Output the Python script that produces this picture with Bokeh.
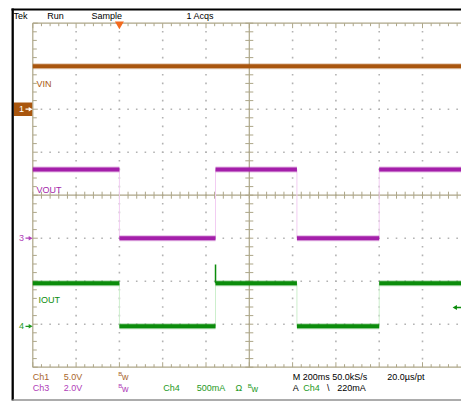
import math
from bokeh.plotting import figure
from bokeh.embed import file_html
from bokeh.resources import INLINE
from bokeh.core.properties import value

# ---------------- data ----------------
time_edges_ms = [0, 400, 844, 1220, 1600, 2000]      # VOUT / IOUT transitions
vin_t_ms = [0, 2000]
vin_V = [5.0, 5.0]
vout_levels_V = [3.2, 0.0, 3.2, 0.0, 3.2]
iout_levels_mA = [500, 0, 500, 0, 500]
iout_spike_t_ms = 844
iout_spike_mA = 720
trigger_pos_ms = 400
trigger_level_mA = 220

time_per_div_ms = 200
ch1_scale_V, ch1_offset_div = 5.0, 2.0
ch3_scale_V, ch3_offset_div = 2.0, -1.0
ch4_scale_mA, ch4_offset_div = 500.0, -3.05

header_labels = ["Tek", "Run", "Sample", "1 Acqs"]
trace_labels = ["VIN", "VOUT", "IOUT"]

# ---------------- layout helpers ----------------
W, H = 461, 401
OX, OY = 0, 0
X0, DX, Y0, DY = 32.3, 43.3, 194.7, 43.0
PX = time_per_div_ms / DX      # one pixel in ms
PY = 1.0 / DY                  # one pixel in divisions


def X(px):
    return (px - X0) / DX * time_per_div_ms


def Y(py):
    return (Y0 - py) / DY


p = figure(width=W, height=H, x_range=(X(OX), X(OX + W)), y_range=(Y(OY + H), Y(OY)),
           output_backend="svg", toolbar_location=None, min_border=0,
           x_axis_type=None, y_axis_type=None)
p.outline_line_color = None
p.background_fill_color = "white"
p.border_fill_color = "white"
p.xgrid.visible = False
p.ygrid.visible = False

GC = "#ADA688"
DOT = "#B2B2B2"
BROWN = "#A9560E"
PURPLE = "#A41FAA"
GREEN = "#0B8C0B"
FONT = value("Liberation Sans")
TMAX = 10 * time_per_div_ms

# ---------------- dotted graticule ----------------
dx, dy = [], []
for k in range(1, 10):
    if k == 5:
        continue
    for j in range(1, 40):
        dx.append(k * time_per_div_ms)
        dy.append(-4 + 0.2 * j)
for k in range(-3, 4):
    if k == 0:
        continue
    for j in range(1, 50):
        dx.append(j * time_per_div_ms / 5)
        dy.append(k)
p.scatter(dx, dy, marker="square", size=1.6, color=DOT, line_color=None)

# solid edges and center cross
p.segment(x0=[0, 0, 0, TMAX / 2, 0], y0=[-4, 4, -4, -4, 0],
          x1=[0, TMAX, TMAX, TMAX / 2, TMAX], y1=[4, 4, -4, 4, 0],
          line_color=GC, line_width=1.2)

# ticks
sx0, sy0, sx1, sy1 = [], [], [], []
for j in range(0, 51):
    t = j * time_per_div_ms / 5
    L = 5 if j % 5 == 0 else 3
    sx0 += [t, t, t]
    sy0 += [4, -4, -3.5 * PY]
    sx1 += [t, t, t]
    sy1 += [4 - L * PY, -4 + L * PY, 3.5 * PY]
for j in range(0, 41):
    yv = -4 + 0.2 * j
    L = 5 if j % 5 == 0 else 4
    sx0 += [0, TMAX / 2 - 4 * PX]
    sy0 += [yv, yv]
    sx1 += [L * PX, TMAX / 2 + 4 * PX]
    sy1 += [yv, yv]
p.segment(x0=sx0, y0=sy0, x1=sx1, y1=sy1, line_color=GC, line_width=1)


# ---------------- traces ----------------
def step_trace(levels, scale, offset, color, edge_color):
    ys = [offset + v / scale for v in levels]
    x0 = time_edges_ms[:-1]
    x1 = time_edges_ms[1:]
    p.segment(x0=time_edges_ms[1:-1], y0=ys[:-1], x1=time_edges_ms[1:-1], y1=ys[1:],
              line_color=edge_color, line_width=1)
    p.segment(x0=x0, y0=ys, x1=x1, y1=ys, line_color=color, line_width=6,
              line_alpha=0.3, line_cap="butt")
    p.segment(x0=x0, y0=ys, x1=x1, y1=ys, line_color=color, line_width=4,
              line_cap="butt")


vin_y = [ch1_offset_div + v / ch1_scale_V for v in vin_V]
p.line(vin_t_ms, vin_y, line_color=BROWN, line_width=6, line_alpha=0.3)
p.line(vin_t_ms, vin_y, line_color=BROWN, line_width=4)

step_trace(vout_levels_V, ch3_scale_V, ch3_offset_div, PURPLE, "#F2CDF2")
step_trace(iout_levels_mA, ch4_scale_mA, ch4_offset_div, GREEN, "#CDEFCD")
p.segment(x0=[iout_spike_t_ms], y0=[ch4_offset_div + iout_levels_mA[2] / ch4_scale_mA],
          x1=[iout_spike_t_ms], y1=[ch4_offset_div + iout_spike_mA / ch4_scale_mA],
          line_color=GREEN, line_width=1.5)

# ---------------- markers ----------------
# trigger position
p.scatter([trigger_pos_ms], [Y(23.5)], marker="inverted_triangle", size=9,
          color="#F26A1E", line_color=None)
# trigger level
tl_y = ch4_offset_div + trigger_level_mA / ch4_scale_mA
p.segment(x0=[X(455)], y0=[tl_y], x1=[X(461)], y1=[tl_y], line_color=GREEN, line_width=1.5)
p.scatter([X(455)], [tl_y], marker="triangle", angle=math.pi / 2, size=5,
          color=GREEN, line_color=None)

# ground markers
p.quad(left=[X(13.3)], right=[X(31.7)], top=[Y(102)], bottom=[Y(115.5)],
       fill_color=BROWN, line_color=None)
gnd_y = [ch1_offset_div, ch3_offset_div, ch4_offset_div]
gnd_txt = ["1", "3", "4"]
gnd_col = ["white", "#B040B8", "#1E9A1E"]
p.text(x=[X(18.5)] * 3, y=gnd_y, text=gnd_txt, text_color=gnd_col, text_font=FONT,
       text_font_size="9px", text_baseline="middle", text_align="left")
p.segment(x0=[X(25)] * 3, y0=gnd_y, x1=[X(29)] * 3, y1=gnd_y, line_color=gnd_col,
          line_width=1.2)
p.scatter([X(29.5)] * 3, gnd_y, marker="triangle", angle=-math.pi / 2, size=4.5,
          color=gnd_col, line_color=None)

# trace labels
p.text(x=[X(36), X(36), X(38)], y=[Y(83.7), Y(189), Y(299.3)], text=trace_labels,
       text_color=[BROWN, PURPLE, GREEN], text_font=FONT, text_font_size="9px",
       text_baseline="middle", text_align="left")

# ---------------- frame ----------------
p.segment(x0=[X(11)], y0=[Y(9)], x1=[X(470)], y1=[Y(9)], line_color="black", line_width=2)
p.segment(x0=[X(12.2)], y0=[Y(8)], x1=[X(12.2)], y1=[Y(400)], line_color="black",
          line_width=2.3)
p.segment(x0=[X(12)], y0=[Y(399.5)], x1=[X(470)], y1=[Y(399.5)], line_color="#909090",
          line_width=1.5)

# ---------------- header ----------------
p.text(x=[X(13), X(46.7), X(91), X(186)], y=[Y(15.3)] * 4, text=header_labels,
       text_color="black", text_font=FONT, text_font_size="9px",
       text_baseline="middle", text_align="left")

# ---------------- footer ----------------
R1, R2 = 376.0, 387.7
C1 = "#A8662C"
C3 = "#B040B8"
C4 = "#1E9A1E"
ft_x = [X(32.3), X(63.3), X(32.3), X(63.3), X(162.7), X(196.3), X(235),
        X(292.3), X(386.7), X(292.3), X(302.7), X(326.5), X(336.7)]
ft_y = [Y(R1), Y(R1), Y(R2), Y(R2), Y(R2), Y(R2), Y(R2),
        Y(R1), Y(R1), Y(R2), Y(R2), Y(R2), Y(R2)]
ft_t = ["Ch1", "5.0V", "Ch3", "2.0V", "Ch4", "500mA", "Ω",
        "M 200ms 50.0kS/s", "20.0µs/pt", "A", "Ch4", "\\", "220mA"]
ft_c = [C1, C1, C3, C3, C4, C4, C4, "black", "black", "black", C4, "black", "black"]
p.text(x=ft_x, y=ft_y, text=ft_t, text_color=ft_c, text_font=FONT, text_font_size="9px",
       text_baseline="middle", text_align="left")

# bandwidth-limit symbols (small B + w)
bw_x = [117.7, 117.7, 247.3]
bw_r = [R1, R2, R2]
bw_c = [C1, C3, C4]
p.text(x=[X(v) for v in bw_x], y=[Y(r - 2.2) for r in bw_r], text=["B"] * 3,
       text_color=bw_c, text_font=FONT, text_font_size="6px",
       text_baseline="middle", text_align="left")
p.text(x=[X(v + 3.8) for v in bw_x], y=[Y(r + 0.8) for r in bw_r], text=["w"] * 3,
       text_color=bw_c, text_font=FONT, text_font_size="9px",
       text_baseline="middle", text_align="left")

open("out.html", "w").write(file_html(p, INLINE))
